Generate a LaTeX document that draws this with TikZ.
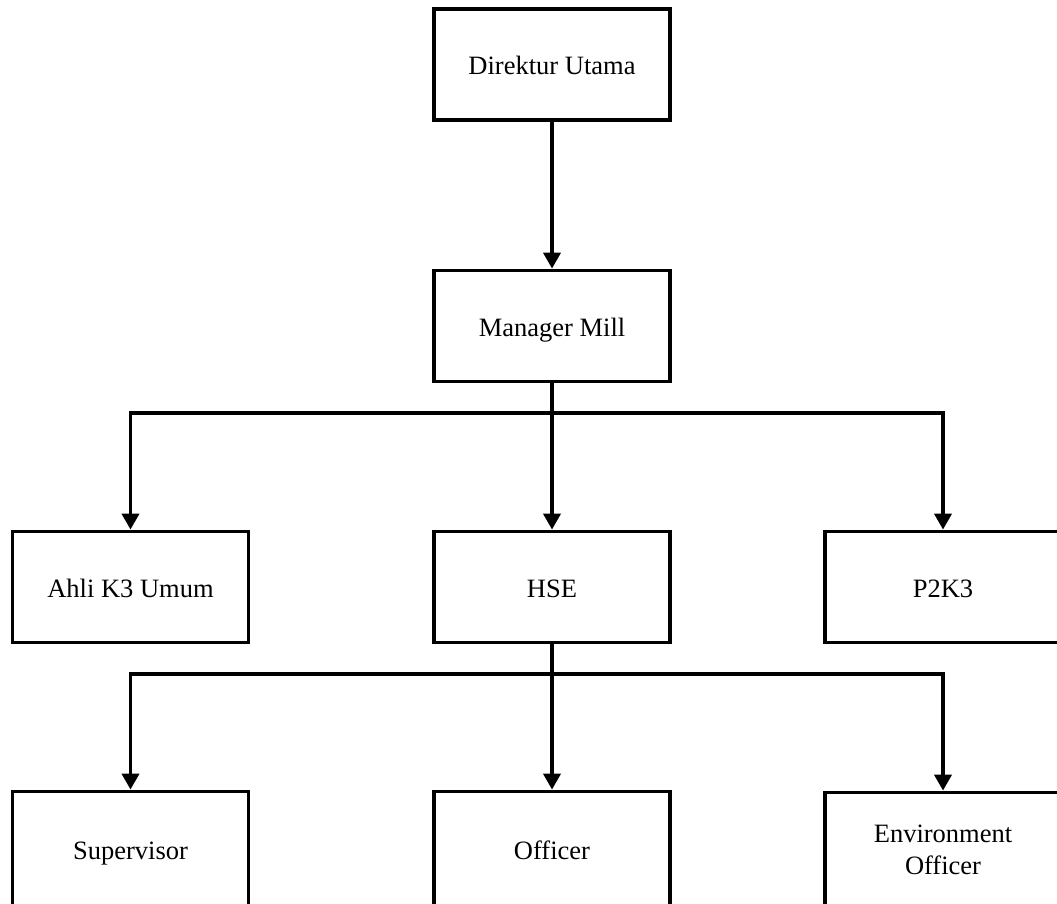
\documentclass[tikz,border=0pt]{standalone}
\usepackage{fontspec}
\setmainfont{Liberation Serif}
\usetikzlibrary{arrows.meta}
\newcommand\mystrut{\rule[-9pt]{0pt}{39pt}}
\begin{document}
\begin{tikzpicture}[x=1pt,y=-1pt,
  box/.style={draw=black, line width=3.8pt, fill=white, minimum width=236pt, minimum height=111pt,
    inner sep=0pt, align=center, font=\fontsize{26.5}{32}\selectfont},
  lowbox/.style={box, minimum height=115pt},
  conn/.style={line width=3.8pt, -{Triangle[length=16pt,width=17pt]}},
  line/.style={line width=3.8pt}]
\useasboundingbox (0,0) rectangle (1057,904);
\fill[white] (0,0) rectangle (1057,904);
\clip (0,0) rectangle (1057,904);
\node[box] (dir) at (552,64.5) {\mystrut Direktur Utama};
\node[box] (mgr) at (552,326) {\mystrut Manager Mill};
\node[box] (ahli) at (130.5,587) {\mystrut Ahli K3 Umum};
\node[box] (hse) at (552,587) {\mystrut HSE};
\node[box] (p2k3) at (943,587) {\mystrut P2K3};
\node[lowbox] (sup) at (130.5,849) {\mystrut Supervisor};
\node[lowbox] (off) at (552,849) {\mystrut Officer};
\node[lowbox] (env) at (943,850) {Environment\\Officer};
\coordinate (j1) at (552,413);
\coordinate (j2) at (552,674);
\draw[conn] (dir) -- (mgr);
\draw[line] (mgr.south) -- (j1);
\draw[conn] (j1) -| (ahli.north);
\draw[conn] (j1) -| (p2k3.north);
\draw[conn] (j1) -- (hse.north);
\draw[line] (hse.south) -- (j2);
\draw[conn] (j2) -| (sup.north);
\draw[conn] (j2) -| (env.north);
\draw[conn] (j2) -- (off.north);
\end{tikzpicture}
\end{document}
